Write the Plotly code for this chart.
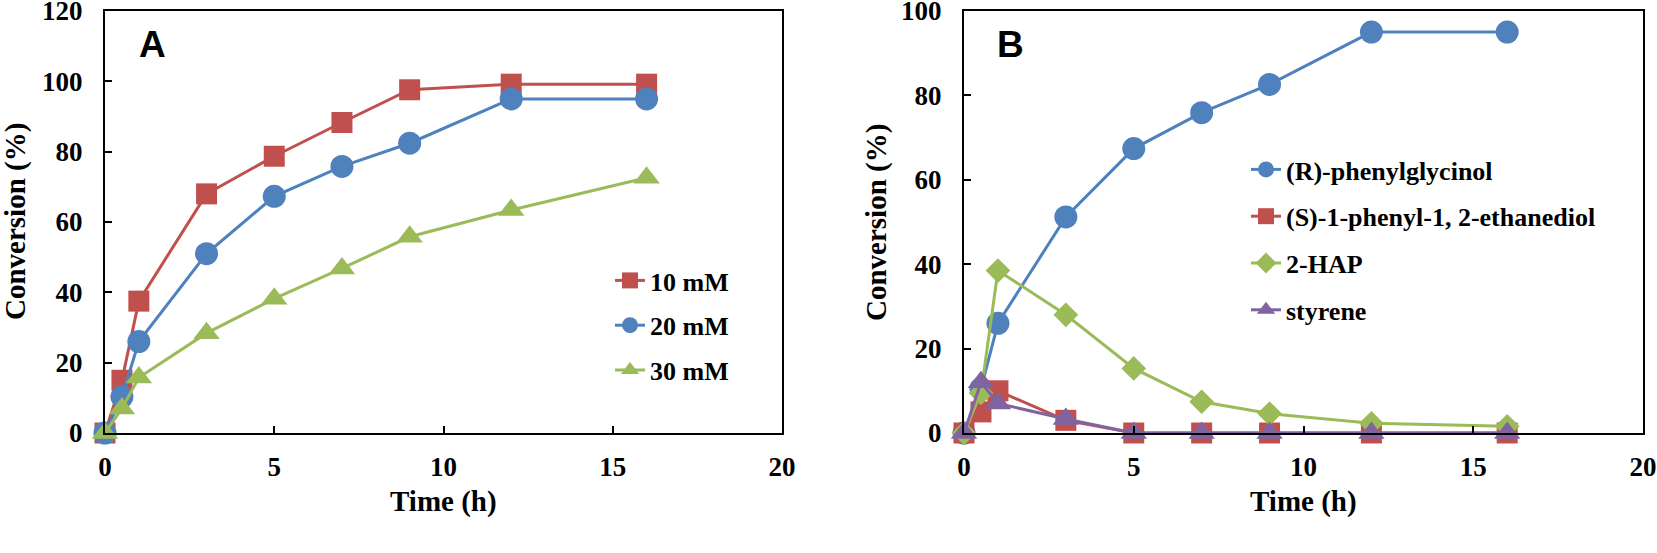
import plotly.graph_objects as go

# ---------------- data ----------------
time_a = [0, 0.5, 1, 3, 5, 7, 9, 12, 16]
conv_10mM = [0, 15, 37.5, 68, 78.7, 88.3, 97.6, 99.2, 99.2]
conv_20mM = [0, 10.3, 26, 51, 67.3, 75.8, 82.4, 95, 95]
conv_30mM = [0, 7, 15.8, 28.4, 38.2, 46.8, 55.8, 63.4, 72.6]

time_b = [0, 0.5, 1, 3, 5, 7, 9, 12, 16]
phenylglycinol = [0, 10.5, 26, 51.2, 67.4, 75.9, 82.6, 95, 95]
ethanediol = [0, 5, 10, 3, 0, 0, 0, 0, 0]
hap = [0, 9.5, 38.5, 28, 15.3, 7.4, 4.6, 2.3, 1.6]
styrene = [0, 12, 7, 3.3, 0, 0, 0, 0, 0]

names_a = ["10 mM", "20 mM", "30 mM"]
names_b = ["(R)-phenylglycinol", "(S)-1-phenyl-1, 2-ethanediol", "2-HAP", "styrene"]

RED = "#C0504D"
BLUE = "#4F81BD"
GREEN = "#9BBB59"
PURPLE = "#8064A2"

W, H = 1657, 553
SERIF = "Liberation Serif"

fig = go.Figure()

def add(x, y, name, color, symbol, size, xa, ya, legend, group):
    fig.add_trace(go.Scatter(
        x=x, y=y, name=name, mode="lines+markers",
        line=dict(color=color, width=3),
        marker=dict(color=color, symbol=symbol, size=size),
        xaxis=xa, yaxis=ya, legend=legend, legendgroup=group,
        cliponaxis=False,
    ))

add(time_a, conv_10mM, names_a[0], RED, "square", 21, "x", "y", "legend", "a1")
add(time_a, conv_20mM, names_a[1], BLUE, "circle", 23, "x", "y", "legend", "a2")
add(time_a, conv_30mM, names_a[2], GREEN, "triangle-up", 23, "x", "y", "legend", "a3")

add(time_b, phenylglycinol, names_b[0], BLUE, "circle", 23, "x2", "y2", "legend2", "b1")
add(time_b, ethanediol, names_b[1], RED, "square", 21, "x2", "y2", "legend2", "b2")
add(time_b, hap, names_b[2], GREEN, "diamond", 19, "x2", "y2", "legend2", "b3")
add(time_b, styrene, names_b[3], PURPLE, "triangle-up", 23, "x2", "y2", "legend2", "b4")

tickfont = dict(family=SERIF, size=27, color="black", weight="bold")
axis_common = dict(
    showline=True, linecolor="black", linewidth=2, mirror=True,
    ticks="inside", ticklen=7, tickwidth=2, tickcolor="black",
    showgrid=False, zeroline=False, tickfont=tickfont, automargin=False,
    ticklabeloverflow="allow",
)

ydom = [(H - 433) / H, (H - 11) / H]
legend_font = dict(family=SERIF, size=26, color="black", weight="bold")
fig.update_layout(
    width=W, height=H,
    margin=dict(l=0, r=0, t=0, b=0),
    paper_bgcolor="white", plot_bgcolor="white",
    xaxis=dict(domain=[105 / W, 782 / W], range=[0, 20], dtick=5, anchor="y",
               ticklabelstandoff=9, **axis_common),
    yaxis=dict(domain=ydom, range=[0, 120], dtick=20, anchor="x",
               ticklabelstandoff=15, **axis_common),
    xaxis2=dict(domain=[964 / W, 1643 / W], range=[0, 20], dtick=5, anchor="y2",
                ticklabelstandoff=9, **axis_common),
    yaxis2=dict(domain=ydom, range=[0, 100], dtick=20, anchor="x2",
                ticklabelstandoff=15, **axis_common),
    legend=dict(x=610 / W, y=1 - 257 / H, xanchor="left", yanchor="top",
                font=legend_font, bgcolor="rgba(0,0,0,0)",
                traceorder="grouped", tracegroupgap=8),
    legend2=dict(x=1246 / W, y=1 - 146 / H, xanchor="left", yanchor="top",
                 font=legend_font, bgcolor="rgba(0,0,0,0)",
                 traceorder="grouped", tracegroupgap=10),
    showlegend=True,
)

title_font = dict(family=SERIF, size=29, color="black", weight="bold")
annots = [
    dict(text="Conversion (%)", x=15 / W, y=1 - 222 / H, textangle=-90),
    dict(text="Conversion (%)", x=876 / W, y=1 - 222 / H, textangle=-90),
    dict(text="Time (h)", x=443.5 / W, y=1 - 501 / H, textangle=0),
    dict(text="Time (h)", x=1303.5 / W, y=1 - 501 / H, textangle=0),
]
for a in annots:
    fig.add_annotation(xref="paper", yref="paper", xanchor="center", yanchor="middle",
                       showarrow=False, font=title_font, **a)

panel_font = dict(family="Liberation Sans", size=37, color="black", weight="bold")
fig.add_annotation(text="A", xref="paper", yref="paper", x=152 / W, y=1 - 45 / H,
                   xanchor="center", yanchor="middle", showarrow=False, font=panel_font)
fig.add_annotation(text="B", xref="paper", yref="paper", x=1010 / W, y=1 - 45 / H,
                   xanchor="center", yanchor="middle", showarrow=False, font=panel_font)

fig.write_html("out.html", config={"displayModeBar": False},
               post_script="document.body.style.margin='0';")
